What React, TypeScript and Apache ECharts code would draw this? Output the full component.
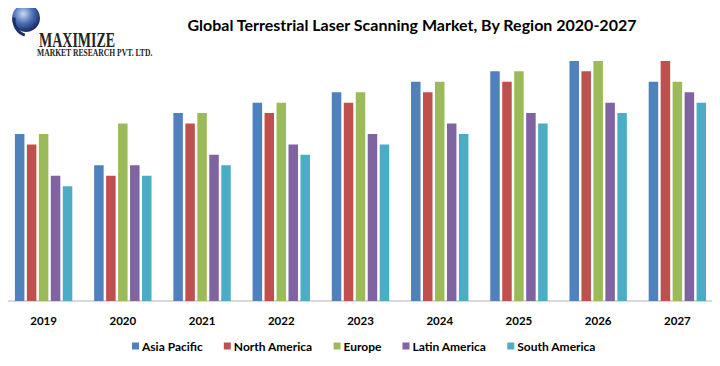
import React, { useEffect, useRef } from "react";
import * as echarts from "echarts";

const years = ["2019", "2020", "2021", "2022", "2023", "2024", "2025", "2026", "2027"];
const seriesNames = ["Asia Pacific", "North America", "Europe", "Latin America", "South America"];
const asiaPacific = [16, 13, 18, 19, 20, 21, 22, 23, 21];
const northAmerica = [15, 12, 17, 18, 19, 20, 21, 22, 23];
const europe = [16, 17, 18, 19, 20, 21, 22, 23, 21];
const latinAmerica = [12, 13, 14, 15, 16, 17, 18, 19, 20];
const southAmerica = [11, 12, 13, 14, 15, 16, 17, 18, 19];
const colors = ["#4f81bd", "#c0504d", "#9bbb59", "#8064a2", "#4bacc6"];

export default function App() {
  const ref = useRef<HTMLDivElement>(null);
  useEffect(() => {
    if (!ref.current) return;
    const chart = echarts.init(ref.current, null, { renderer: "svg" });
    const values = [asiaPacific, northAmerica, europe, latinAmerica, southAmerica];
    chart.setOption({
      animation: false,
      backgroundColor: "#ffffff",
      color: colors,
      title: {
        text: "Global Terrestrial Laser Scanning Market, By Region 2020-2027",
        left: 407,
        textAlign: "center",
        top: 11,
        textStyle: { fontFamily: "Lato", fontWeight: "bold", fontSize: 16, color: "#000" },
      },
      legend: {
        data: seriesNames,
        left: 132,
        width: 570,
        top: 340,
        padding: 0,
        icon: "rect",
        itemWidth: 7,
        itemHeight: 7,
        itemGap: 21,
        textStyle: { fontFamily: "Lato", fontWeight: "bold", fontSize: 12, color: "#000", padding: [0, 0, 0, -2] },
      },
      grid: { left: 4, right: 3, top: 40, bottom: 65 },
      xAxis: {
        type: "category",
        data: years,
        axisLine: { lineStyle: { color: "#d9d9d9", width: 2 } },
        axisTick: { show: false },
        axisLabel: { fontFamily: "Lato", fontWeight: "bold", fontSize: 11.5, color: "#000", margin: 13 },
      },
      yAxis: { type: "value", min: 0, max: 25, show: false, splitLine: { show: false } },
      series: seriesNames.map((name, i) => ({
        name,
        type: "bar",
        data: values[i],
        barWidth: 9.5,
        barGap: "26%",
        itemStyle: { color: colors[i] },
      })),
      graphic: [
        {
          type: "circle",
          shape: { cx: 26, cy: 18, r: 14 },
          style: {
            fill: new echarts.graphic.RadialGradient(0.4, 0.35, 0.7, [
              { offset: 0, color: "#c9d9f0" },
              { offset: 0.5, color: "#4a6fb5" },
              { offset: 1, color: "#0d1f5c" },
            ]),
          },
        },
        {
          type: "arc",
          shape: { cx: 30, cy: 20, r: 16, startAngle: 1.9, endAngle: 3.3 },
          style: { stroke: "#1a2f6e", lineWidth: 3, fill: "none" },
        },
        {
          type: "text",
          x: 39,
          y: 31,
          style: { text: "MAXIMIZE", font: "bold 20px 'Liberation Serif'", fill: "#222" },
          scaleX: 0.7,
        },
        {
          type: "text",
          x: 37,
          y: 48,
          style: { text: "MARKET RESEARCH PVT. LTD.", font: "bold 10px 'Liberation Serif'", fill: "#222" },
          scaleX: 0.76,
        },
      ],
    });
    return () => chart.dispose();
  }, []);
  return <div ref={ref} style={{ width: 720, height: 366, margin: -8 }} />;
}
